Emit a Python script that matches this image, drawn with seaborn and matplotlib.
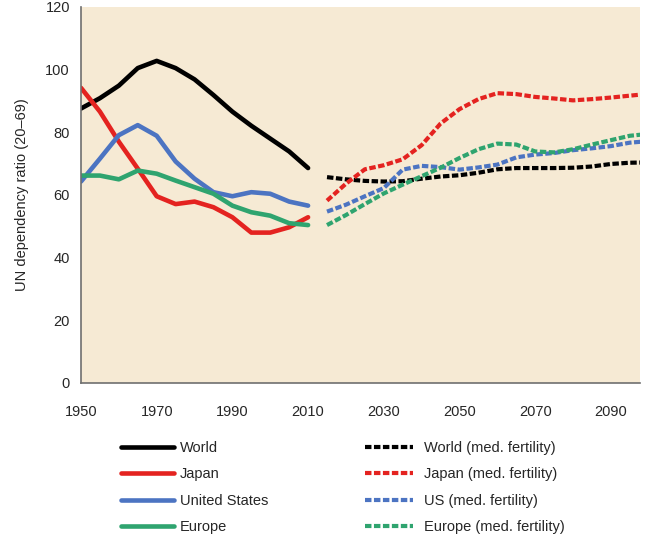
import matplotlib
matplotlib.use("Agg")
import matplotlib.pyplot as plt
import seaborn as sns
import pandas as pd

# historical values, every 5 years
hist_years = list(range(1950, 2011, 5))
world = [87.6, 90.9, 94.9, 100.5, 102.8, 100.5, 96.9, 91.9, 86.6, 82.1, 78.0, 73.9, 68.6]
japan = [94.2, 86.6, 77.0, 68.4, 59.6, 57.1, 57.9, 56.1, 52.9, 48.0, 48.0, 49.7, 52.9]
usa = [64.3, 71.6, 79.1, 82.3, 78.9, 70.7, 65.2, 60.9, 59.6, 60.9, 60.4, 57.9, 56.6]
europe = [66.2, 66.2, 65.0, 67.8, 66.8, 64.6, 62.5, 60.4, 56.6, 54.5, 53.4, 51.0, 50.4]

# medium fertility projections
proj_years = list(range(2015, 2101, 5))
world_proj = [65.7, 65.0, 64.5, 64.3, 64.4, 65.2, 65.9, 66.3, 67.1, 68.2, 68.6, 68.6,
              68.6, 68.7, 69.1, 69.9, 70.3, 70.4]
japan_proj = [58.2, 63.6, 68.2, 69.5, 71.4, 75.9, 82.8, 87.4, 90.6, 92.5, 92.2, 91.3,
              90.8, 90.2, 90.6, 91.1, 91.7, 92.3]
usa_proj = [54.7, 56.9, 59.6, 62.2, 68.1, 69.3, 68.9, 68.1, 68.8, 69.7, 72.0, 72.9,
            73.4, 74.3, 74.9, 75.6, 76.7, 77.2]
europe_proj = [50.4, 53.6, 57.1, 60.5, 63.3, 66.0, 68.7, 71.8, 74.6, 76.4, 76.1, 73.9,
               73.6, 74.6, 76.1, 77.5, 78.9, 79.5]

hist_labels = ["World", "Japan", "United States", "Europe"]
proj_labels = ["World (med. fertility)", "Japan (med. fertility)",
               "US (med. fertility)", "Europe (med. fertility)"]
colors = ["#000000", "#E42320", "#4C74C2", "#2FA46F"]

sns.set_style("white")
plt.rcParams["font.family"] = ["Liberation Sans", "DejaVu Sans"]
plt.rcParams["font.size"] = 10.5

fig = plt.figure(figsize=(6.5, 5.4), dpi=100)
ax = fig.add_axes([81 / 650, 1 - 383 / 540, 559 / 650, 376 / 540])
ax.set_facecolor("#F6EAD4")

hist = [world, japan, usa, europe]
proj = [world_proj, japan_proj, usa_proj, europe_proj]

solid = []
for vals, col in zip(hist, colors):
    df = pd.DataFrame({"year": hist_years, "ratio": vals})
    sns.lineplot(data=df, x="year", y="ratio", color=col, lw=3.3, ax=ax, legend=False)
    solid.append(ax.lines[-1])

dashed = []
for vals, col in zip(proj, colors):
    df = pd.DataFrame({"year": proj_years, "ratio": vals})
    sns.lineplot(data=df, x="year", y="ratio", color=col, lw=3.0, ax=ax, legend=False)
    ln = ax.lines[-1]
    ln.set_dashes((1.55, 0.6))
    dashed.append(ln)

ax.set_xlim(1950, 2097.7)
ax.set_ylim(0, 120)
ax.set_xticks(range(1950, 2091, 20))
ax.set_yticks(range(0, 121, 20))
ax.tick_params(axis="x", length=0, pad=16, labelsize=10.5)
ax.tick_params(axis="y", length=0, pad=8, labelsize=10.5)
ax.set_xlabel("")
ax.set_ylabel("UN dependency ratio (20–69)", fontsize=10.5)
ax.yaxis.set_label_coords(-0.093, 0.5)

for side in ["top", "right"]:
    ax.spines[side].set_visible(False)
for side in ["left", "bottom"]:
    ax.spines[side].set_color("#6f6f6f")
    ax.spines[side].set_linewidth(1.2)

fig.legend(handles=solid, labels=hist_labels, loc="upper left",
           bbox_to_anchor=(121 / 650, 1 - 441 / 540), frameon=False,
           borderpad=0, borderaxespad=0, handlelength=3.6, handletextpad=0.45,
           labelspacing=0.85, fontsize=10.5)
fig.legend(handles=dashed, labels=proj_labels, loc="upper left",
           bbox_to_anchor=(365 / 650, 1 - 441 / 540), frameon=False,
           borderpad=0, borderaxespad=0, handlelength=3.3, handletextpad=0.75,
           labelspacing=0.85, fontsize=10.5)

fig.savefig("out.png", dpi=100)
